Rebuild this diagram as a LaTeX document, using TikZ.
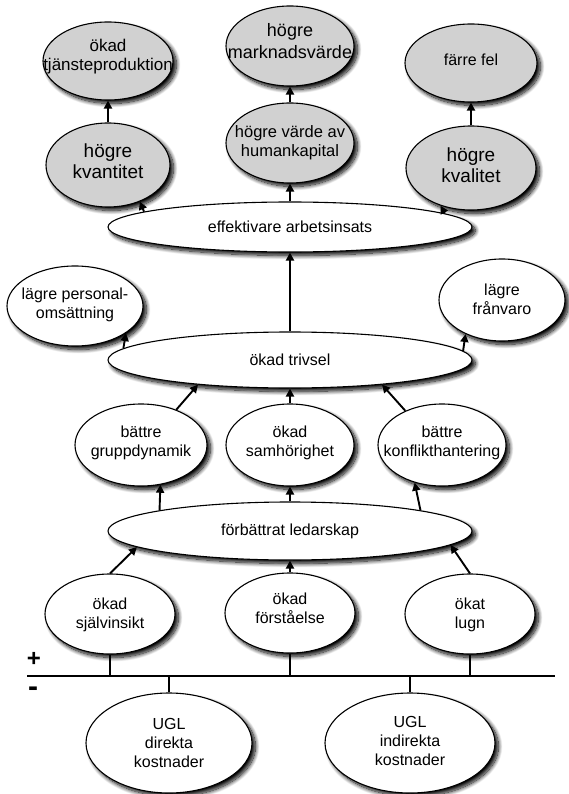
\documentclass[tikz,border=0pt]{standalone}
\usepackage{fontspec}
\setmainfont{Liberation Sans}
\usetikzlibrary{shapes.geometric,arrows.meta,shadows.blur}
\begin{document}
\begin{tikzpicture}[x=1pt,y=-1pt,
  el/.style={ellipse,draw=black,line width=1.1pt,fill=white,inner sep=0pt,
     blur shadow={shadow xshift=3.5pt,shadow yshift=-3.5pt,shadow blur radius=4pt,shadow blur steps=14,shadow opacity=100}},
  gel/.style={el,fill=black!18},
  lab/.style={align=center,inner sep=0pt,font=\fontsize{16}{19}\selectfont},
  arr/.style={line width=1.9pt,-{Triangle[length=8pt,width=8pt]}},
  tickline/.style={line width=1.4pt},
  sign/.style={inner sep=0pt,font=\fontsize{24}{24}\selectfont\bfseries}]
\useasboundingbox (0,0) rectangle (569,794);

% top row (grey)
\node[gel,minimum width=130pt,minimum height=78pt] (tjanste) at (108,61) {};
\node[gel,minimum width=128pt,minimum height=80pt] (markn) at (290,46) {};
\node[gel,minimum width=132pt,minimum height=78pt] (farre) at (471,63) {};
\node[gel,minimum width=124pt,minimum height=84pt] (kvant) at (108,165) {};
\node[gel,minimum width=128pt,minimum height=80pt] (hk) at (290,143) {};
\node[gel,minimum width=130pt,minimum height=84pt] (kval) at (471,168) {};

% white ellipses
\node[el,minimum width=364pt,minimum height=50pt] (eff) at (290,227) {};
\node[el,minimum width=136pt,minimum height=80pt] (pers) at (75,306) {};
\node[el,minimum width=126pt,minimum height=82pt] (fran) at (502,300) {};
\node[el,minimum width=364pt,minimum height=56pt] (triv) at (290,360) {};
\node[el,minimum width=132pt,minimum height=82pt] (grupp) at (141,445) {};
\node[el,minimum width=128pt,minimum height=82pt] (samh) at (290,445) {};
\node[el,minimum width=128pt,minimum height=82pt] (konf) at (442,445) {};
\node[el,minimum width=364pt,minimum height=58pt] (led) at (290,531) {};
\node[el,minimum width=130pt,minimum height=80pt] (self) at (110,614) {};
\node[el,minimum width=130pt,minimum height=80pt] (forst) at (290,613) {};
\node[el,minimum width=130pt,minimum height=80pt] (lugn) at (470,614) {};
\node[el,minimum width=166pt,minimum height=100pt] (direkta) at (169,743) {};
\node[el,minimum width=170pt,minimum height=100pt] (indir) at (410,743) {};

% texts
\node[lab,font=\fontsize{17}{19}\selectfont] (tjanste-t) at (108,57) {ökad\\tjänsteproduktion};
\node[lab,font=\fontsize{18}{22}\selectfont] (markn-t) at (290,41) {högre\\marknadsvärde};
\node[lab] (farre-t) at (471,60) {färre fel};
\node[lab,font=\fontsize{19}{21}\selectfont] (kvant-t) at (108,161) {högre\\kvantitet};
\node[lab,font=\fontsize{16.5}{19}\selectfont] (hk-t) at (290,143) {högre värde av\\humankapital};
\node[lab,font=\fontsize{19}{21}\selectfont] (kval-t) at (471,165) {högre\\kvalitet};
\node[lab] (eff-t) at (290,227) {effektivare arbetsinsats};
\node[lab] (pers-t) at (75,305) {lägre personal-\\omsättning};
\node[lab] (fran-t) at (502,299) {lägre\\frånvaro};
\node[lab] (triv-t) at (290,360) {ökad trivsel};
\node[lab] (grupp-t) at (141,443) {bättre\\gruppdynamik};
\node[lab] (samh-t) at (290,443) {ökad\\samhörighet};
\node[lab] (konf-t) at (442,443) {bättre\\konflikthantering};
\node[lab] (led-t) at (290,531) {förbättrat ledarskap};
\node[lab] (self-t) at (110,615) {ökad\\självinsikt};
\node[lab] (forst-t) at (290,608) {ökad\\förståelse};
\node[lab] (lugn-t) at (470,615) {ökat\\lugn};
\node[lab] (direkta-t) at (169,743) {UGL\\direkta\\kostnader};
\node[lab] (indir-t) at (410,741) {UGL\\indirekta\\kostnader};

% arrows
\draw[arr] (kvant.north) -- (tjanste.south);
\draw[arr] (hk.north) -- (markn.south);
\draw[arr] (kval.north) -- (farre.south);
\draw[arr] (eff.174.3) -- (kvant.-49);
\draw[arr] (eff.north) -- (hk.south);
\draw[arr] (eff.5.2) -- (kval.-129);
\draw[arr] (triv.north) -- (eff.south);
\draw[arr] (triv.176.3) -- (pers.-28);
\draw[arr] (triv.3.8) -- (fran.-137);
\draw[arr] (grupp.45) -- (triv.-165);
\draw[arr] (samh.north) -- (triv.south);
\draw[arr] (konf.137) -- (triv.-15);
\draw[arr] (led.171) -- (grupp.-64);
\draw[arr] (led.north) -- (samh.south);
\draw[arr] (led.9.7) -- (konf.-126);
\draw[arr] (self.north) -- (led.-174);
\draw[arr] (forst.north) -- (led.south);
\draw[arr] (lugn.north) -- (led.-5.4);

% baseline
\coordinate (bl) at (27,676);
\coordinate (br) at (555,676);
\draw[tickline] (bl) -- (br);
\draw[tickline] (self.south) -- (self.south |- bl);
\draw[tickline] (forst.south) -- (forst.south |- bl);
\draw[tickline] (lugn.south) -- (lugn.south |- bl);
\draw[tickline] (direkta.north) -- (direkta.north |- bl);
\draw[tickline] (indir.north) -- (indir.north |- bl);
\node[sign] (plus) at (34,659) {+};
\node[sign,font=\fontsize{30}{30}\selectfont\bfseries] (minus) at (33,692) {-};
\end{tikzpicture}
\end{document}
